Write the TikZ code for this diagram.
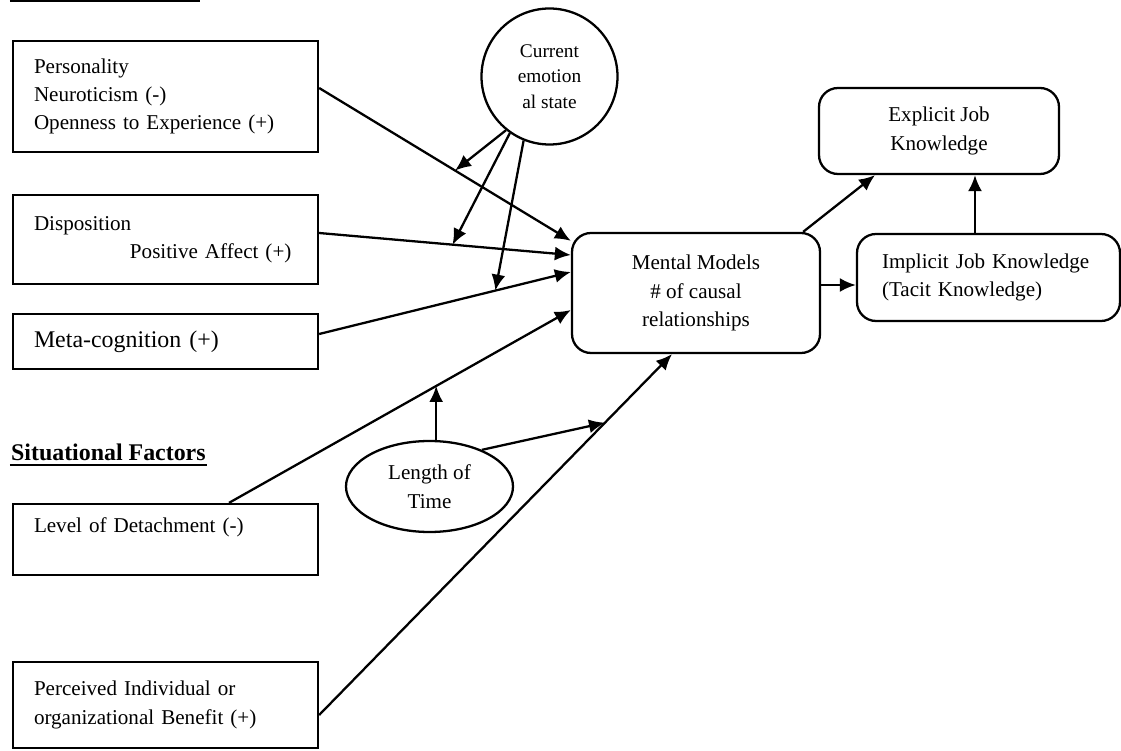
\documentclass[tikz,border=0pt]{standalone}
\usepackage{fontspec}
\setmainfont{Liberation Serif}
\usetikzlibrary{shapes.geometric, arrows.meta}

\begin{document}
\begin{tikzpicture}[> = {Latex[length = 0.32cm, width = 0.28cm]}, line width = 1.3pt,
	factor/.style = {draw, rectangle, minimum width = 6.1cm, text width = 5.26cm, inner xsep = 0.42cm, align = left, font = \fontsize{12}{16}\selectfont},
	outcome/.style = {draw, rectangle, rounded corners = 0.38cm, font = \fontsize{12}{16}\selectfont},
	link/.style = {->}]

	\useasboundingbox (0, 0) rectangle (22.42, 15);

	% Heading cut off at the top
	
	\draw [line width = 1.1pt] (0.2, 14.98) -- (4.0, 14.98);
	
	% Personal factors
	
	\node [factor, minimum height = 2.22cm] (personality) at (3.31, 13.07) {Personality\\Neuroticism (-)\\Openness to Experience (+)};
	\node [factor, minimum height = 1.78cm] (disposition) at (3.31, 10.21) {Disposition\\\hspace*{1.92cm}Positive Affect (+)};
	\node [factor, minimum height = 1.10cm, font = \fontsize{13.6}{16}\selectfont] (metacog) at (3.31, 8.17) {Meta-cognition (+)};
	
	% Situational factors
	
	\node [anchor = base west, inner sep = 0pt, font = \fontsize{13.6}{16}\selectfont\bfseries] (situational) at (0.2, 5.78) {Situational Factors};
	\draw [line width = 1.1pt] ([yshift = -0.08cm] situational.base west) -- ([yshift = -0.08cm] situational.base east);
	
	\node [factor, minimum height = 1.42cm] (detachment) at (3.31, 4.21) {Level of Detachment (-)\\\mbox{}};
	\node [factor, minimum height = 1.72cm] (benefit) at (3.31, 0.90) {Perceived Individual or\\organizational Benefit (+)};
	
	% Moderators
	
	\node [draw, circle, minimum size = 2.72cm, inner sep = 0pt, align = center, font = \fontsize{11}{14.5}\selectfont] (emotion) at (10.99, 13.47) {Current\\emotion\\al state};
	\node [draw, ellipse, minimum width = 3.34cm, minimum height = 1.82cm, inner sep = 0pt, align = center, font = \fontsize{12}{16.5}\selectfont] (time) at (8.59, 5.27) {Length of\\Time};
	
	% Mental models and knowledge
	
	\node [outcome, minimum width = 4.96cm, minimum height = 2.40cm, align = center] (mm) at (13.92, 9.14) {Mental Models\\\# of causal\\relationships};
	\node [outcome, minimum width = 4.80cm, minimum height = 1.72cm, align = center] (explicit) at (18.78, 12.38) {Explicit Job\\Knowledge};
	\node [outcome, minimum width = 5.26cm, minimum height = 1.74cm, text width = 4.26cm, inner xsep = 0.5cm, align = left] (implicit) at (19.77, 9.45) {Implicit Job Knowledge\\(Tacit Knowledge)};
	
	% Paths into mental models
	
	\draw [link] ([yshift = 0.17cm] personality.east) -- coordinate [pos = 0.54] (pmod) ([yshift = -0.18cm] mm.north west);
	\draw [link] ([yshift = 0.13cm] disposition.east) -- coordinate [pos = 0.53] (dmod) ([yshift = 0.76cm] mm.west);
	\draw [link] ([yshift = 0.15cm] metacog.east) -- coordinate [pos = 0.70] (cmod) ([yshift = 0.42cm] mm.west);
	\draw [link] ([xshift = 1.27cm] detachment.north) -- coordinate [pos = 0.606] (lmod) ([yshift = -0.34cm] mm.west);
	\draw [link] ([yshift = -0.2cm] benefit.east) -- coordinate [pos = 0.81] (bmod) ([xshift = -0.48cm] mm.south);
	
	% Moderating arrows
	
	\draw [link] (emotion.231) -- (pmod);
	\draw [link] (emotion.235) -- (dmod);
	\draw [link] (emotion.248) -- (cmod);
	
	\draw [link] (time.north -| lmod) -- (lmod);
	\draw [link] (time.35) -- (bmod);
	
	% Outcomes
	
	\draw [link] ([xshift = -0.36cm] mm.north east) -- ([xshift = -1.28cm] explicit.south);
	\draw [link] ([yshift = 0.16cm] mm.east) -- ([yshift = 0.16cm] mm.east -| implicit.west);
	\draw [link] ([xshift = -0.27cm] implicit.north) -- ([xshift = -0.27cm] implicit.north |- explicit.south);
	
\end{tikzpicture}
\end{document}
